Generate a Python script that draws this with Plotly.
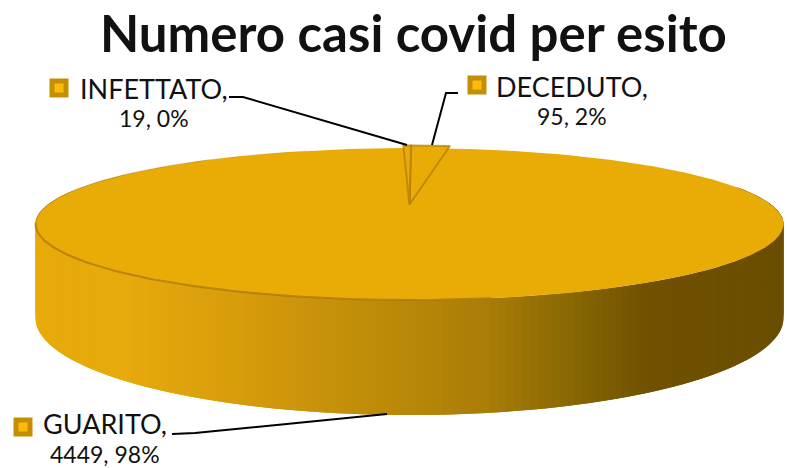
import math
import numpy as np
import plotly.graph_objects as go

categories = ["DECEDUTO", "GUARITO", "INFETTATO"]
values = [95, 4449, 19]
title = "Numero casi covid per esito"

W, H = 787, 468
CX, CY, A, B, K, DEPTH = 409.5, 207, 364.5, 72.2, 0.2236, 89.3
START = 0.3
TOP = "#E9AB06"
EDGE = "rgba(176,124,6,0.7)"
FONT = "Lato"
STOPS = [(35, (232, 170, 10)), (130, (230, 170, 12)), (250, (214, 155, 10)), (330, (198, 145, 10)),
         (410, (186, 136, 8)), (490, (170, 125, 8)), (570, (138, 105, 3)), (650, (112, 81, 0)),
         (783, (106, 78, 0))]


def proj(theta, z=0.0, dy=0.0):
    t = np.radians(theta)
    u, v = np.sin(t), np.cos(t)
    s = 1 / (1 + K * v)
    return CX + A * u * s, CY + dy + (-B * v + z) * s


def wall_color(x):
    xs = [p[0] for p in STOPS]
    c = [np.interp(x, xs, [p[1][i] for p in STOPS]) for i in range(3)]
    return "rgb(%d,%d,%d)" % tuple(int(round(q)) for q in c)


total = sum(values)
spans = []
a0 = START
for v in values:
    a1 = a0 + v / total * 360
    spans.append((a0, a1))
    a0 = a1

fig = go.Figure()


def poly(xs, ys, fill, line=None, width=0):
    fig.add_trace(go.Scatter(x=list(xs), y=list(ys), mode="lines", fill="toself", fillcolor=fill,
                             line=dict(color=line or fill, width=width), hoverinfo="skip",
                             showlegend=False))


# side wall, from the left silhouette to the right one
steps = np.arange(284, 74, -1.0)
for t in steps:
    th = np.array([t, t - 2.0])
    xt, yt = proj(th)
    xb, yb = proj(th[::-1], DEPTH)
    poly(np.r_[xt, xb], np.r_[yt, yb], wall_color(xt.mean()))

# top faces: the whole disc below, the two small pulled-out slices above it
xs, ys = proj(np.linspace(0, 360, 721))
poly(xs, ys, TOP)
for name, (a, b) in zip(categories, spans):
    if name != "GUARITO":
        th = np.linspace(a, b, 20)
        xs, ys = proj(th, dy=-2.5)
        poly(np.r_[CX, xs, CX], np.r_[CY - 2.5, ys, CY - 2.5], TOP, EDGE, 2)

# rim shading where the top meets the wall, and the thin back-left outline
th = np.linspace(258, 170, 80)
xs, ys = proj(th)
fig.add_trace(go.Scatter(x=xs, y=ys, mode="lines", line=dict(color="rgba(170,118,4,0.75)", width=2),
                         hoverinfo="skip", showlegend=False))
for lo, hi, alpha in [(258, 300, 0.55), (300, 320, 0.35), (320, 340, 0.18)]:
    xs, ys = proj(np.linspace(hi, lo, 40))
    fig.add_trace(go.Scatter(x=xs, y=ys, mode="lines", line=dict(color=f"rgba(150,110,20,{alpha})", width=1),
                             hoverinfo="skip", showlegend=False))

# leader lines
leaders = {
    "INFETTATO": ([229, 243, 407], [97, 97, 145]),
    "DECEDUTO": ([458, 446, 432], [93, 93, 145]),
    "GUARITO": ([172, 195, 387], [434, 433, 414]),
}
for xs, ys in leaders.values():
    fig.add_trace(go.Scatter(x=xs, y=ys, mode="lines", line=dict(color="black", width=2),
                             hoverinfo="skip", showlegend=False))

# data labels with keys
label_pos = {"INFETTATO": (153.5, 88, 118), "DECEDUTO": (572, 86, 116), "GUARITO": (105, 423.5, 454)}
key_pos = {"INFETTATO": (59, 88), "DECEDUTO": (477, 85), "GUARITO": (23, 427)}
for name, v in zip(categories, values):
    x, y1, y2 = label_pos[name]
    pct = round(v / total * 100)
    fig.add_annotation(x=x, y=y1, text=f"{name},", showarrow=False, xanchor="center", yanchor="middle",
                       font=dict(family=FONT, size=27, color="#111111"))
    fig.add_annotation(x=x, y=y2, text=f"{v}, {pct}%", showarrow=False, xanchor="center", yanchor="middle",
                       font=dict(family=FONT, size=23, color="#111111"))
    kx, ky = key_pos[name]
    fig.add_trace(go.Scatter(x=[kx], y=[ky], mode="markers", hoverinfo="skip", showlegend=False,
                             marker=dict(symbol="square", size=14, color="#FFBA0E",
                                         line=dict(color="#C48F05", width=5))))

fig.add_annotation(x=413, y=32, text=f"<b>{title}</b>", showarrow=False, xanchor="center", yanchor="middle",
                   font=dict(family=FONT, size=51, color="#111111"))

fig.update_layout(width=W, height=H, margin=dict(l=0, r=0, t=0, b=0), paper_bgcolor="white",
                  plot_bgcolor="white",
                  xaxis=dict(range=[0, W], visible=False, fixedrange=True),
                  yaxis=dict(range=[H, 0], visible=False, fixedrange=True))
fig.write_html("out.html", config=dict(displayModeBar=False),
               post_script="document.body.style.margin='0';document.body.style.overflow='hidden';")
